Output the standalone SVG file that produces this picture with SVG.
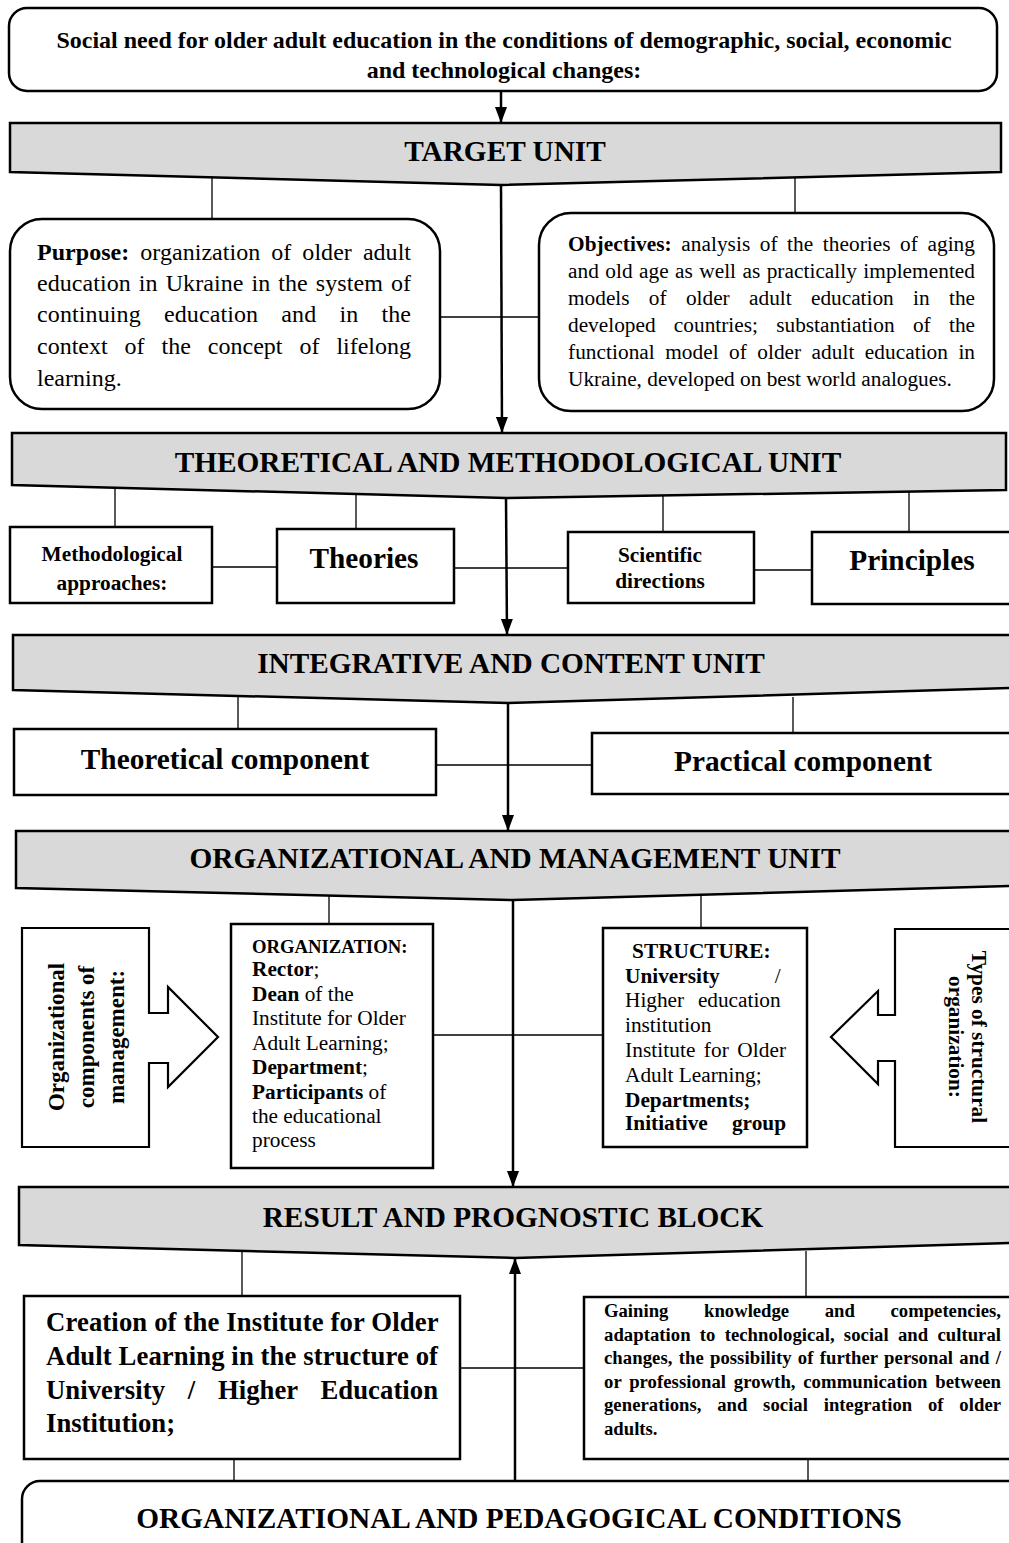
<svg xmlns="http://www.w3.org/2000/svg" width="1009" height="1543" viewBox="0 0 1009 1543">
<style>
text{font-family:"Liberation Serif","Times New Roman",serif;fill:#000}
.b{font-weight:bold}
.box{fill:#fff;stroke:#000;stroke-width:2.5}
.ban{fill:#d9d9d9;stroke:#000;stroke-width:2.5;stroke-linejoin:miter}
.blk{fill:#fff;stroke:#000;stroke-width:2.2}
.ln{stroke:#000;stroke-width:1.3;fill:none}
.ar{stroke:#000;stroke-width:2.5;fill:none}
.t29{font-size:29.3px;font-weight:bold}
</style>
<defs>
<marker id="ah" markerUnits="userSpaceOnUse" markerWidth="16" markerHeight="12" refX="16" refY="6" orient="auto">
<path d="M0,0 L16,6 L0,12 z" fill="#000"/>
</marker>
</defs>
<rect width="1009" height="1543" fill="#fff"/>

<g id="connectors">
<line class="ar" x1="501" y1="91" x2="501" y2="123" marker-end="url(#ah)"/>
<line class="ar" x1="501" y1="185" x2="502" y2="433" marker-end="url(#ah)"/>
<line class="ar" x1="506" y1="498" x2="507" y2="635" marker-end="url(#ah)"/>
<line class="ar" x1="508" y1="703" x2="508" y2="831" marker-end="url(#ah)"/>
<line class="ar" x1="513" y1="900" x2="513" y2="1187" marker-end="url(#ah)"/>
<line class="ar" x1="515" y1="1481" x2="515" y2="1258" marker-end="url(#ah)"/>
<line class="ln" x1="212" y1="174" x2="212" y2="219"/>
<line class="ln" x1="795" y1="176" x2="795" y2="213"/>
<line class="ln" x1="440" y1="317" x2="539" y2="317"/>
<line class="ln" x1="115" y1="488" x2="115" y2="527"/>
<line class="ln" x1="356" y1="493" x2="356" y2="529"/>
<line class="ln" x1="663" y1="494" x2="663" y2="532"/>
<line class="ln" x1="909" y1="489" x2="909" y2="532"/>
<line class="ln" x1="212" y1="567" x2="277" y2="567"/>
<line class="ln" x1="454" y1="568" x2="568" y2="568"/>
<line class="ln" x1="754" y1="570" x2="812" y2="570"/>
<line class="ln" x1="238" y1="695" x2="238" y2="729"/>
<line class="ln" x1="793" y1="697" x2="793" y2="733"/>
<line class="ln" x1="436" y1="765" x2="592" y2="765"/>
<line class="ln" x1="329" y1="890" x2="329" y2="924"/>
<line class="ln" x1="701" y1="892" x2="701" y2="928"/>
<line class="ln" x1="433" y1="1035" x2="603" y2="1035"/>
<line class="ln" x1="242" y1="1250" x2="242" y2="1296"/>
<line class="ln" x1="806" y1="1251" x2="806" y2="1297"/>
<line class="ln" x1="460" y1="1368" x2="584" y2="1368"/>
<line class="ln" x1="234" y1="1455" x2="234" y2="1481"/>
<line class="ln" x1="808" y1="1455" x2="808" y2="1481"/>
</g>

<g id="social-need">
<rect class="box" x="9" y="8" width="988" height="83" rx="18"/>
<text class="b" font-size="24" x="504" y="48" text-anchor="middle">Social need for older adult education in the conditions of demographic, social, economic</text>
<text class="b" font-size="24" x="504" y="78" text-anchor="middle">and technological changes:</text>
</g>

<g id="target-unit">
<polygon class="ban" points="10,123 1001,123 1001,172 501,185 10,172"/>
<text class="t29" x="505" y="161" text-anchor="middle">TARGET UNIT</text>
</g>

<g id="purpose">
<rect class="box" x="10" y="219" width="430" height="190" rx="32"/>
<text font-size="24">
<tspan x="37" y="260" textLength="374" lengthAdjust="spacing" word-spacing="5"><tspan class="b">Purpose:</tspan> organization of older adult</tspan>
<tspan x="37" y="291" textLength="374" lengthAdjust="spacing" word-spacing="2">education in Ukraine in the system of</tspan>
<tspan x="37" y="322" textLength="374" lengthAdjust="spacing" word-spacing="17">continuing education and in the</tspan>
<tspan x="37" y="354" textLength="374" lengthAdjust="spacing" word-spacing="11">context of the concept of lifelong</tspan>
<tspan x="37" y="386">learning.</tspan>
</text>
</g>

<g id="objectives">
<rect class="box" x="539" y="213" width="455" height="198" rx="32"/>
<text font-size="21.3">
<tspan x="568" y="251" textLength="407" lengthAdjust="spacing" word-spacing="4"><tspan class="b">Objectives:</tspan> analysis of the theories of aging</tspan>
<tspan x="568" y="278" textLength="407" lengthAdjust="spacing" word-spacing="1">and old age as well as practically implemented</tspan>
<tspan x="568" y="305" textLength="407" lengthAdjust="spacing" word-spacing="14">models of older adult education in the</tspan>
<tspan x="568" y="332" textLength="407" lengthAdjust="spacing" word-spacing="13">developed countries; substantiation of the</tspan>
<tspan x="568" y="359" textLength="407" lengthAdjust="spacing" word-spacing="5">functional model of older adult education in</tspan>
<tspan x="568" y="386">Ukraine, developed on best world analogues.</tspan>
</text>
</g>

<g id="theoretical-unit">
<polygon class="ban" points="12,433 1006,433 1006,490 506,498 12,485"/>
<text class="t29" x="508" y="472" text-anchor="middle">THEORETICAL AND METHODOLOGICAL UNIT</text>
</g>

<g id="methodological">
<rect class="box" x="10" y="527" width="202" height="76"/>
<text class="b" font-size="21.3" x="112" y="561" text-anchor="middle">Methodological</text>
<text class="b" font-size="21.3" x="112" y="590" text-anchor="middle">approaches:</text>
</g>
<g id="theories">
<rect class="box" x="277" y="529" width="177" height="74"/>
<text class="b" font-size="29.3" x="364" y="568" text-anchor="middle">Theories</text>
</g>
<g id="scientific">
<rect class="box" x="568" y="532" width="186" height="71"/>
<text class="b" font-size="21.3" x="660" y="562" text-anchor="middle">Scientific</text>
<text class="b" font-size="21.3" x="660" y="588" text-anchor="middle">directions</text>
</g>
<g id="principles">
<rect class="box" x="812" y="532" width="210" height="72"/>
<text class="b" font-size="29.3" x="912" y="570" text-anchor="middle">Principles</text>
</g>

<g id="integrative-unit">
<polygon class="ban" points="13,635 1012,635 1012,688 508,703 13,690"/>
<text class="t29" x="511" y="673" text-anchor="middle">INTEGRATIVE AND CONTENT UNIT</text>
</g>
<g id="theoretical-component">
<rect class="box" x="14" y="729" width="422" height="66"/>
<text class="b" font-size="29.3" x="225" y="769" text-anchor="middle">Theoretical component</text>
</g>
<g id="practical-component">
<rect class="box" x="592" y="733" width="430" height="61"/>
<text class="b" font-size="29.3" x="803" y="771" text-anchor="middle">Practical component</text>
</g>

<g id="management-unit">
<polygon class="ban" points="16,831 1012,831 1012,886 513,900 16,888"/>
<text class="t29" x="515" y="868" text-anchor="middle">ORGANIZATIONAL AND MANAGEMENT UNIT</text>
</g>

<g id="org-components">
<polygon class="blk" points="22,928 149,928 149,1013 168,1013 168,987 218,1037 168,1087 168,1063 149,1063 149,1147 22,1147"/>
<text class="b" font-size="23" text-anchor="middle" transform="translate(64,1037) rotate(-90)">Organizational</text>
<text class="b" font-size="23" text-anchor="middle" transform="translate(94,1037) rotate(-90)">components of</text>
<text class="b" font-size="23" text-anchor="middle" transform="translate(124,1037) rotate(-90)">management:</text>
</g>

<g id="organization">
<rect class="box" x="231" y="924" width="202" height="244"/>
<text font-size="21.3">
<tspan class="b" font-size="18.7" x="252" y="953">ORGANIZATION:</tspan>
<tspan x="252" y="976"><tspan class="b">Rector</tspan>;</tspan>
<tspan x="252" y="1001"><tspan class="b">Dean</tspan> of the</tspan>
<tspan x="252" y="1025">Institute for Older</tspan>
<tspan x="252" y="1050">Adult Learning;</tspan>
<tspan x="252" y="1074"><tspan class="b">Department</tspan>;</tspan>
<tspan x="252" y="1099"><tspan class="b">Participants</tspan> of</tspan>
<tspan x="252" y="1123">the educational</tspan>
<tspan x="252" y="1147">process</tspan>
</text>
</g>

<g id="structure">
<rect class="box" x="603" y="928" width="204" height="219"/>
<text font-size="21.3">
<tspan class="b" x="704" y="958" text-anchor="middle">STRUCTURE:</tspan>
<tspan class="b" x="625" y="983">University</tspan>
<tspan x="786" y="983" text-anchor="end">/</tspan>
<tspan x="625" y="1007">Higher</tspan>
<tspan x="786" y="1007" text-anchor="end">education</tspan>
<tspan x="625" y="1032">institution</tspan>
<tspan x="625" y="1057" textLength="161" lengthAdjust="spacing" word-spacing="3">Institute for Older</tspan>
<tspan x="625" y="1082">Adult Learning;</tspan>
<tspan class="b" x="625" y="1107">Departments;</tspan>
<tspan class="b" x="625" y="1130">Initiative</tspan>
<tspan class="b" x="786" y="1130" text-anchor="end">group</tspan>
</text>
</g>

<g id="structural-types">
<polygon class="blk" points="1012,929 895,929 895,1015 878,1015 878,991 831,1037 878,1084 878,1061 895,1061 895,1147 1012,1147"/>
<text class="b" font-size="21.3" text-anchor="middle" transform="translate(972,1037) rotate(90)">Types of structural</text>
<text class="b" font-size="21.3" text-anchor="middle" transform="translate(949,1037) rotate(90)">organization:</text>
</g>

<g id="result-block">
<polygon class="ban" points="19,1187 1012,1187 1012,1243 515,1258 19,1245"/>
<text class="t29" x="513" y="1227" text-anchor="middle">RESULT AND PROGNOSTIC BLOCK</text>
</g>

<g id="creation">
<rect class="box" x="24" y="1296" width="436" height="163"/>
<text class="b" font-size="26.7">
<tspan x="46" y="1331" textLength="392" lengthAdjust="spacing">Creation of the Institute for Older</tspan>
<tspan x="46" y="1365" textLength="392" lengthAdjust="spacing">Adult Learning in the structure of</tspan>
<tspan x="46" y="1399" textLength="392" lengthAdjust="spacing" word-spacing="16">University / Higher Education</tspan>
<tspan x="46" y="1432">Institution;</tspan>
</text>
</g>

<g id="gaining">
<rect class="box" x="584" y="1297" width="438" height="162"/>
<text class="b" font-size="18.7">
<tspan x="604" y="1317" textLength="397" lengthAdjust="spacing" word-spacing="31">Gaining knowledge and competencies,</tspan>
<tspan x="604" y="1341" textLength="397" lengthAdjust="spacing" word-spacing="4.5">adaptation to technological, social and cultural</tspan>
<tspan x="604" y="1364" textLength="397" lengthAdjust="spacing" word-spacing="1.5">changes, the possibility of further personal and /</tspan>
<tspan x="604" y="1388" textLength="397" lengthAdjust="spacing" word-spacing="3">or professional growth, communication between</tspan>
<tspan x="604" y="1411" textLength="397" lengthAdjust="spacing" word-spacing="11">generations, and social integration of older</tspan>
<tspan x="604" y="1435">adults.</tspan>
</text>
</g>

<g id="conditions">
<rect class="box" x="22" y="1481" width="1010" height="90" rx="18"/>
<text class="t29" x="519" y="1528" text-anchor="middle">ORGANIZATIONAL AND PEDAGOGICAL CONDITIONS</text>
</g>
</svg>
